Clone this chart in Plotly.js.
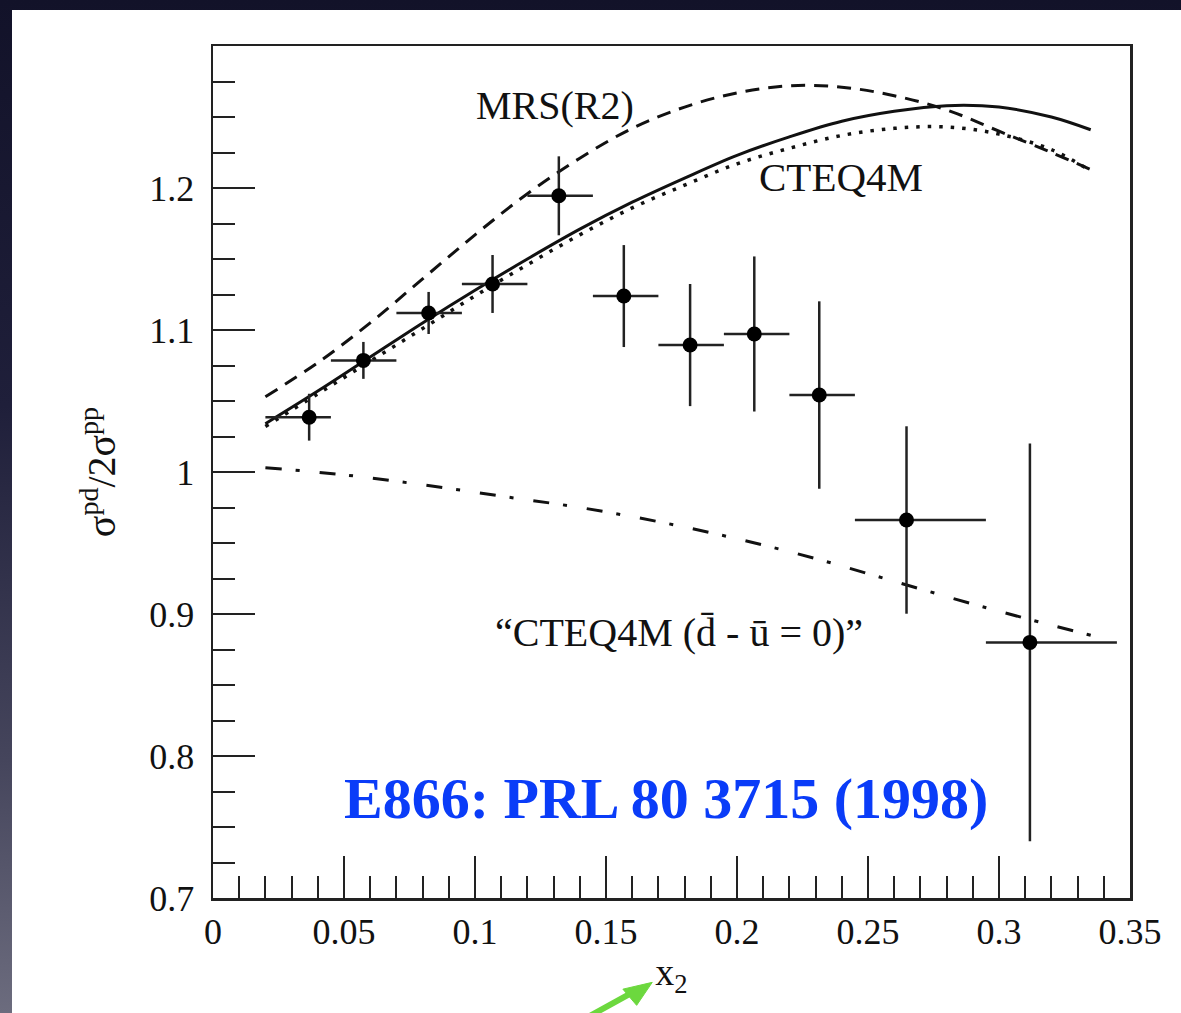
<!DOCTYPE html>
<html>
<head>
<meta charset="utf-8">
<script src="https://cdn.plot.ly/plotly-3.0.1.min.js"></script>
<style>
  html, body { margin: 0; padding: 0; width: 1181px; height: 1013px; overflow: hidden; }
  body { background: linear-gradient(to bottom, #121229 0%, #1f1f3a 40%, #45455c 75%, #6c6c7e 100%); position: relative; }
  #chart { position: absolute; left: 12px; top: 10px; width: 1169px; height: 1003px; background: #ffffff; }
</style>
</head>
<body>
<div id="chart"></div>
<script>
// ---- E866 data points (sigma_pd / 2 sigma_pp) ----
const dataX      = [0.0367, 0.0574, 0.0823, 0.1067, 0.1320, 0.1568, 0.1821, 0.2066, 0.2314, 0.2647, 0.3118];
const dataY      = [1.0386, 1.0786, 1.1120, 1.1324, 1.1945, 1.1239, 1.0894, 1.0972, 1.0542, 0.9662, 0.8800];
const dataYErr   = [0.0165, 0.0130, 0.0148, 0.0204, 0.0278, 0.0359, 0.0430, 0.0546, 0.0660, 0.0660, 0.1400];
const binLow     = [0.020, 0.045, 0.070, 0.095, 0.120, 0.145, 0.170, 0.195, 0.220, 0.245, 0.295];
const binHigh    = [0.045, 0.070, 0.095, 0.120, 0.145, 0.170, 0.195, 0.220, 0.245, 0.295, 0.345];

// ---- theory curves ----
const curveX     = [0.02, 0.04, 0.06, 0.08, 0.10, 0.12, 0.14, 0.16, 0.18, 0.20, 0.22, 0.24, 0.26, 0.28, 0.30, 0.32, 0.335];
const cteq4m     = [1.034, 1.057, 1.081, 1.105, 1.128, 1.150, 1.171, 1.190, 1.207, 1.223, 1.236, 1.247, 1.254, 1.258, 1.257, 1.250, 1.241];
const mrsR2      = [1.053, 1.077, 1.105, 1.136, 1.167, 1.196, 1.221, 1.242, 1.257, 1.267, 1.272, 1.271, 1.265, 1.255, 1.240, 1.225, 1.213];
const cteqDotted = [1.032, 1.055, 1.078, 1.101, 1.124, 1.146, 1.167, 1.186, 1.202, 1.217, 1.228, 1.237, 1.242, 1.243, 1.238, 1.227, 1.212];
const ddX        = [0.02, 0.05, 0.08, 0.11, 0.14, 0.17, 0.20, 0.23, 0.26, 0.29, 0.31, 0.335];
const cteqNoAsym = [1.003, 0.998, 0.991, 0.983, 0.975, 0.965, 0.953, 0.939, 0.923, 0.907, 0.897, 0.885];

// ---- axis ticks ----
const xTickVals  = [0, 0.05, 0.1, 0.15, 0.2, 0.25, 0.3, 0.35];
const xTickText  = ['0', '0.05', '0.1', '0.15', '0.2', '0.25', '0.3', '0.35'];
const yTickVals  = [0.7, 0.8, 0.9, 1.0, 1.1, 1.2];
const yTickText  = ['0.7', '0.8', '0.9', '1', '1.1', '1.2'];

const serif = '"Liberation Serif", "Times New Roman", serif';
const ink = '#111111';
const arrowGreen = '#6cd83e';

const errPlusX  = dataX.map((x, i) => binHigh[i] - x);
const errMinusX = dataX.map((x, i) => x - binLow[i]);

const traces = [
  { x: curveX, y: mrsR2, mode: 'lines', line: { color: ink, width: 3, dash: '14px,9px', shape: 'spline' }, name: 'MRS(R2)', hoverinfo: 'skip' },
  { x: curveX, y: cteqDotted, mode: 'lines', line: { color: ink, width: 3.5, dash: '3.5px,8px', shape: 'spline' }, name: 'CTEQ4M dotted', hoverinfo: 'skip' },
  { x: curveX, y: cteq4m, mode: 'lines', line: { color: ink, width: 3, shape: 'spline' }, name: 'CTEQ4M' },
  { x: ddX, y: cteqNoAsym, mode: 'lines', line: { color: ink, width: 3, dash: '16px,14px,4px,20px', shape: 'spline' }, name: 'CTEQ4M (dbar-ubar=0)' },
  {
    x: dataX, y: dataY, mode: 'markers', name: 'E866',
    marker: { color: '#000000', size: 15, symbol: 'circle' },
    error_y: { type: 'data', array: dataYErr, visible: true, color: '#222222', thickness: 2.5, width: 0 },
    error_x: { type: 'data', symmetric: false, array: errPlusX, arrayminus: errMinusX, visible: true, color: '#222222', thickness: 2.5, width: 0 }
  }
];

const axisCommon = {
  showgrid: false, zeroline: false, showline: true, mirror: true,
  linecolor: '#222222', linewidth: 2.5,
  ticks: 'inside', ticklen: 42, tickwidth: 2, tickcolor: '#222222',
  tickfont: { family: serif, size: 36, color: ink },
  fixedrange: true
};

const layout = {
  width: 1169, height: 1003,
  margin: { l: 201, r: 51, t: 36, b: 115 },
  paper_bgcolor: '#ffffff', plot_bgcolor: '#ffffff',
  showlegend: false,
  xaxis: Object.assign({}, axisCommon, {
    range: [0, 0.35],
    tickmode: 'array', tickvals: xTickVals, ticktext: xTickText,
    ticklabelstandoff: 0,
    minor: { tickmode: 'linear', tick0: 0, dtick: 0.01, ticks: 'inside', ticklen: 22, tickwidth: 2, tickcolor: '#222222', showgrid: false },
    title: { text: 'x<sub>2</sub>', font: { family: serif, size: 38, color: ink }, standoff: 8 }
  }),
  yaxis: Object.assign({}, axisCommon, {
    range: [0.7, 1.3],
    tickmode: 'array', tickvals: yTickVals, ticktext: yTickText,
    ticklabelstandoff: 9,
    minor: { tickmode: 'linear', tick0: 0.7, dtick: 0.025, ticks: 'inside', ticklen: 22, tickwidth: 2, tickcolor: '#222222', showgrid: false },
    title: { text: 'σ<sup>pd</sup>/2σ<sup>pp</sup>', font: { family: serif, size: 40, color: ink }, standoff: 22 }
  }),
  shapes: [
    { type: 'line', xref: 'paper', yref: 'paper', x0: 0.405, y0: -0.142, x1: 0.462, y1: -0.108, line: { color: arrowGreen, width: 6 } },
    { type: 'path', xref: 'paper', yref: 'paper', path: 'M 0.479,-0.099 L 0.447,-0.107 L 0.462,-0.126 Z', fillcolor: arrowGreen, line: { color: arrowGreen, width: 1 } }
  ],
  annotations: [
    { x: 0.1305, y: 1.258, xref: 'x', yref: 'y', text: 'MRS(R2)', showarrow: false, font: { family: serif, size: 40, color: ink } },
    { x: 0.2398, y: 1.2077, xref: 'x', yref: 'y', text: 'CTEQ4M', showarrow: false, font: { family: serif, size: 41, color: ink } },
    { x: 0.178, y: 0.887, xref: 'x', yref: 'y', text: '“CTEQ4M (d\u0304 - u\u0304 = 0)”', showarrow: false, font: { family: serif, size: 40, color: ink } },
    { x: 0.173, y: 0.770, xref: 'x', yref: 'y', text: '<b>E866: PRL 80 3715 (1998)</b>', showarrow: false, font: { family: serif, size: 58, color: '#0a3cf8' } }
  ]
};

Plotly.newPlot('chart', traces, layout, { displayModeBar: false, staticPlot: true });
</script>
</body>
</html>
